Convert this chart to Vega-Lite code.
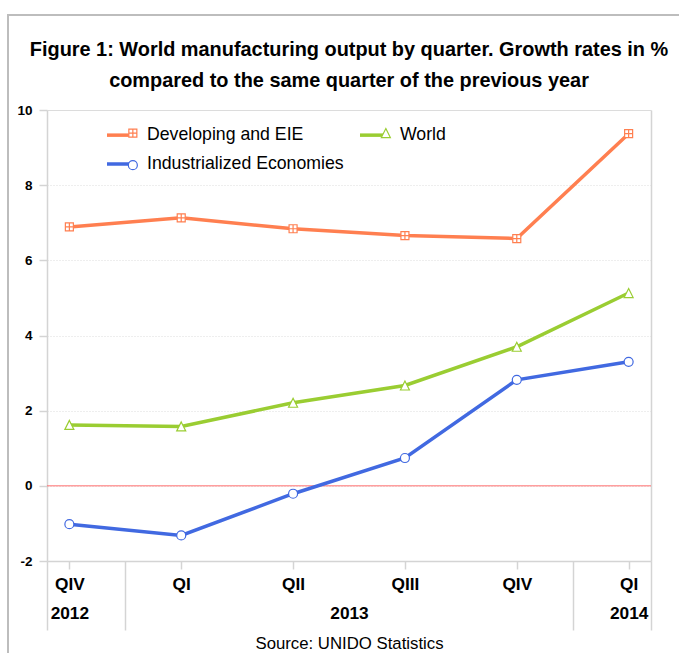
{
  "$schema": "https://vega.github.io/schema/vega-lite/v6.json",
  "width": 671,
  "height": 638,
  "autosize": {"type": "none"},
  "padding": {"left": 8, "top": 15, "right": 0, "bottom": 0},
  "background": "white",
  "config": {
    "font": "Liberation Sans",
    "view": {"stroke": "#bdbdbd", "strokeWidth": 2, "strokeDash": [671, 1309, 638]}
  },
  "title": {
    "text": [
      "Figure 1: World manufacturing output by quarter. Growth rates in %",
      "compared to the same quarter of the previous year"
    ],
    "font": "Liberation Sans",
    "fontSize": 19.9,
    "fontWeight": "bold",
    "color": "#000000",
    "anchor": "middle",
    "frame": "group",
    "lineHeight": 31,
    "baseline": "bottom",
    "offset": -96,
    "dx": 5.5
  },
  "data": {
    "values": [
      {"idx": 0, "quarter": "QIV", "year": 2012, "series": "Developing and EIE", "grp": "Developing and EIE", "value": 6.89},
      {"idx": 1, "quarter": "QI", "year": 2013, "series": "Developing and EIE", "grp": "Developing and EIE", "value": 7.13},
      {"idx": 2, "quarter": "QII", "year": 2013, "series": "Developing and EIE", "grp": "Developing and EIE", "value": 6.84},
      {"idx": 3, "quarter": "QIII", "year": 2013, "series": "Developing and EIE", "grp": "Developing and EIE", "value": 6.66},
      {"idx": 4, "quarter": "QIV", "year": 2013, "series": "Developing and EIE", "grp": "Developing and EIE", "value": 6.58},
      {"idx": 5, "quarter": "QI", "year": 2014, "series": "Developing and EIE", "grp": "Developing and EIE", "value": 9.37},
      {"idx": 0, "quarter": "QIV", "year": 2012, "series": "World", "grp": "World", "value": 1.62},
      {"idx": 1, "quarter": "QI", "year": 2013, "series": "World", "grp": "World", "value": 1.58},
      {"idx": 2, "quarter": "QII", "year": 2013, "series": "World", "grp": "World", "value": 2.21},
      {"idx": 3, "quarter": "QIII", "year": 2013, "series": "World", "grp": "World", "value": 2.67},
      {"idx": 4, "quarter": "QIV", "year": 2013, "series": "World", "grp": "World", "value": 3.70},
      {"idx": 5, "quarter": "QI", "year": 2014, "series": "World", "grp": "World", "value": 5.13},
      {"idx": 0, "quarter": "QIV", "year": 2012, "series": "Industrialized Economies", "grp": "Industrialized Economies", "value": -1.02},
      {"idx": 1, "quarter": "QI", "year": 2013, "series": "Industrialized Economies", "grp": "Industrialized Economies", "value": -1.32},
      {"idx": 2, "quarter": "QII", "year": 2013, "series": "Industrialized Economies", "grp": "Industrialized Economies", "value": -0.21},
      {"idx": 3, "quarter": "QIII", "year": 2013, "series": "Industrialized Economies", "grp": "Industrialized Economies", "value": 0.74},
      {"idx": 4, "quarter": "QIV", "year": 2013, "series": "Industrialized Economies", "grp": "Industrialized Economies", "value": 2.82},
      {"idx": 5, "quarter": "QI", "year": 2014, "series": "Industrialized Economies", "grp": "Industrialized Economies", "value": 3.30}
    ]
  },
  "layer": [
    {
      "data": {"values": [{"baseline": 0}]},
      "mark": {"type": "rule", "color": "#ff6f6f", "strokeWidth": 1},
      "encoding": {
        "y": {"field": "baseline", "type": "quantitative", "axis": null},
        "x": {
          "datum": -0.2,
          "type": "quantitative",
          "axis": {
            "values": [0, 2.5, 5],
            "labelExpr": "datum.value == 0 ? '2012' : datum.value == 5 ? '2014' : '2013'",
            "orient": "bottom",
            "offset": -92,
            "domain": false,
            "ticks": false,
            "tickSize": 0,
            "grid": false,
            "labelPadding": 43,
            "labelFont": "Liberation Sans",
            "labelFontSize": 17.3,
            "labelFontWeight": "bold",
            "labelColor": "#000000",
            "labelFlush": false,
            "labelOverlap": false,
            "title": "Source: UNIDO Statistics",
            "titleFont": "Liberation Sans",
            "titleFontSize": 16.75,
            "titleFontWeight": "normal",
            "titleColor": "#000000",
            "titleBaseline": "alphabetic",
            "titleY": 87
          }
        },
        "x2": {"datum": 5.2}
      }
    },
    {
      "mark": {"type": "line", "strokeWidth": 3.5},
      "encoding": {
        "x": {
          "field": "idx",
          "type": "quantitative",
          "scale": {"domain": [-0.2, 5.2], "range": [39, 643], "nice": false, "zero": false},
          "axis": {
            "values": [0, 1, 2, 3, 4, 5],
            "labelExpr": "['QIV','QI','QII','QIII','QIV','QI'][datum.value]",
            "orient": "bottom",
            "offset": -92,
            "domain": true,
            "domainColor": "#d4d4d4",
            "domainWidth": 1.5,
            "ticks": true,
            "tickSize": 8,
            "tickColor": "#d4d4d4",
            "tickWidth": 1.5,
            "grid": false,
            "labelPadding": 6,
            "labelFont": "Liberation Sans",
            "labelFontSize": 17.3,
            "labelFontWeight": "bold",
            "labelColor": "#000000",
            "labelFlush": false,
            "labelOverlap": false,
            "title": null
          }
        },
        "y": {
          "field": "value",
          "type": "quantitative",
          "scale": {"domain": [-2, 10], "range": [546, 95], "nice": false, "zero": false},
          "axis": {
            "values": [-2, 0, 2, 4, 6, 8, 10],
            "labelExpr": "datum.value < 0 ? '-' + abs(datum.value) : '' + datum.value",
            "orient": "left",
            "offset": -39,
            "domain": true,
            "domainColor": "#d4d4d4",
            "domainWidth": 1.5,
            "ticks": true,
            "tickSize": 8,
            "tickColor": "#d4d4d4",
            "tickWidth": 1.5,
            "grid": true,
            "gridColor": "#dcdcdc",
            "gridWidth": 1,
            "gridDash": {"condition": {"test": "datum.value === 10", "value": []}, "value": [1, 2]},
            "labelPadding": 7,
            "labelFont": "Liberation Sans",
            "labelFontSize": 13.5,
            "labelFontWeight": "bold",
            "labelColor": "#000000",
            "labelFlush": false,
            "labelOverlap": false,
            "title": null
          }
        },
        "color": {
          "field": "series",
          "type": "nominal",
          "scale": {"range": ["#ff7f50", "#4169e1", "#9acd32"]},
          "legend": {
            "orient": "none",
            "legendX": 97,
            "legendY": 105,
            "columns": 2,
            "title": null,
            "padding": 0,
            "symbolType": "stroke",
            "symbolSize": 676,
            "symbolStrokeWidth": 3.5,
            "labelFont": "Liberation Sans",
            "labelFontSize": 17.7,
            "labelColor": "#000000",
            "labelOffset": 12,
            "labelLimit": 400,
            "columnPadding": 9,
            "rowPadding": 5
          }
        }
      }
    },
    {
      "mark": {"type": "point", "fill": "white", "fillOpacity": 1, "opacity": 1, "strokeWidth": 1.2, "size": 100},
      "encoding": {
        "x": {
          "field": "idx",
          "type": "quantitative",
          "axis": {
            "values": [-0.2, 0.5, 4.5, 5.2],
            "orient": "bottom",
            "offset": -92,
            "domain": false,
            "labels": false,
            "ticks": true,
            "tickSize": 69,
            "tickColor": "#d4d4d4",
            "tickWidth": 1.5,
            "grid": false,
            "title": null
          }
        },
        "y": {
          "field": "value",
          "type": "quantitative",
          "axis": {
            "orient": "right",
            "offset": -28,
            "domain": true,
            "domainColor": "#d4d4d4",
            "domainWidth": 1.5,
            "ticks": false,
            "labels": false,
            "grid": false,
            "title": null
          }
        },
        "shape": {
          "field": "grp",
          "type": "nominal",
          "scale": {
            "range": [
              "M-0.8,-0.8H0.8V0.8H-0.8Z M0,-0.8V0.8 M-0.8,0H0.8",
              "M-0.9,0A0.9,0.9 0 1,0 0.9,0A0.9,0.9 0 1,0 -0.9,0Z",
              "M0,-0.9L0.9,0.9L-0.9,0.9Z"
            ]
          }
        },
        "stroke": {
          "field": "grp",
          "type": "nominal",
          "scale": {"range": ["#ff7f50", "#4169e1", "#9acd32"]},
          "legend": {
            "orient": "none",
            "legendX": 116,
            "legendY": 109,
            "columns": 2,
            "title": null,
            "padding": 0,
            "symbolSize": 100,
            "symbolStrokeWidth": 1.2,
            "symbolFillColor": "white",
            "labelExpr": "''",
            "labelFont": "Liberation Sans",
            "labelFontSize": 17.7,
            "labelOffset": 30,
            "labelLimit": 400,
            "columnPadding": 205,
            "rowPadding": 13.3
          }
        }
      }
    }
  ],
  "resolve": {"axis": {"x": "independent", "y": "independent"}}
}
